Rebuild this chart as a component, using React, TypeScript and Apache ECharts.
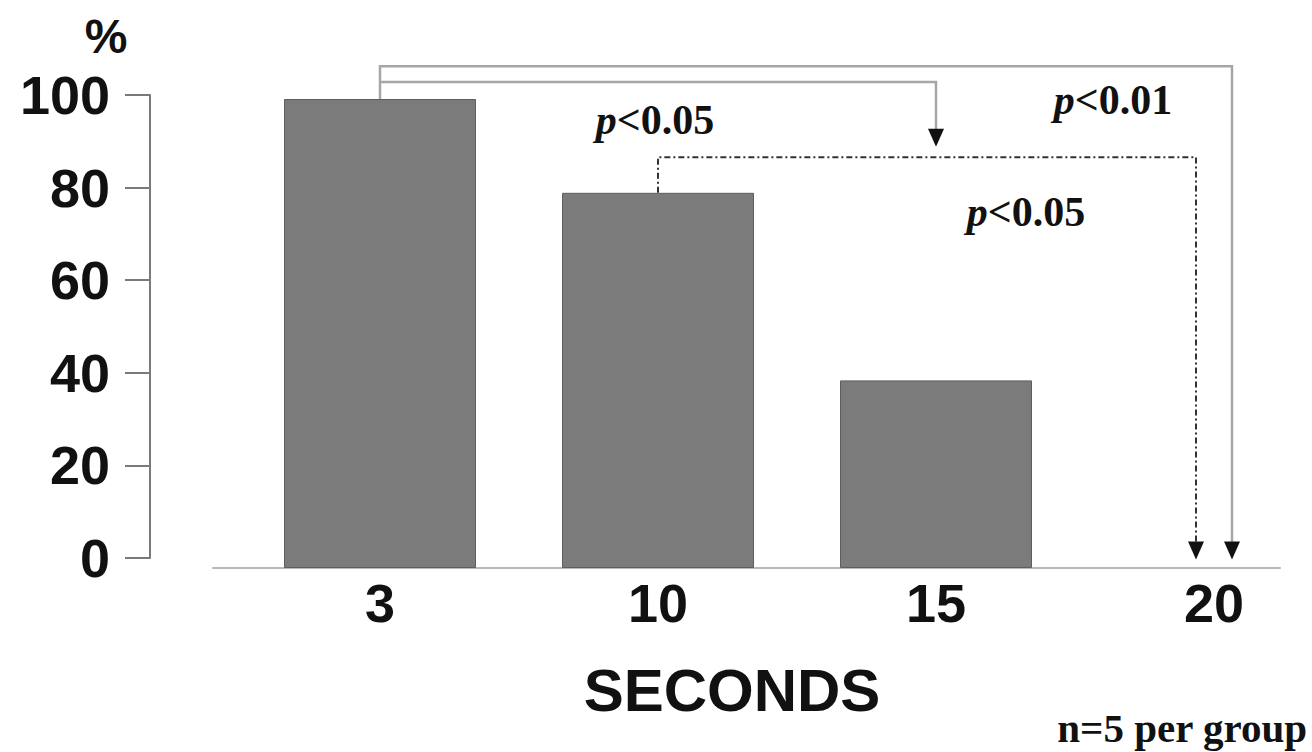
import React, { useEffect, useRef } from "react";
import * as echarts from "echarts";

const categories = ["3", "10", "15", "20"];
const percentValues = [100, 80, 40, 0];
const yMin = 0;
const yMax = 100;
const yInterval = 20;
const xTitle = "SECONDS";
const yTitle = "%";
const footNote = "n=5 per group";

// significance comparisons: from category -> to category, bracket level (in % units)
const comparisons = [
  { from: "3", to: "15", level: 103.6, pText: "<0.05", kind: "solid" },
  { from: "3", to: "20", level: 107.0, pText: "<0.01", kind: "solid" },
  { from: "10", to: "20", level: 87.6, pText: "<0.05", kind: "dashdot" },
];

const SANS = "'Liberation Sans', Arial, sans-serif";
const SERIF = "'Liberation Serif', 'Times New Roman', serif";

export default function App() {
  const ref = useRef<HTMLDivElement>(null);

  useEffect(() => {
    if (!ref.current) return;
    const chart = echarts.init(ref.current, null, { renderer: "svg" });
    chart.setOption({
      animation: false,
      backgroundColor: "#ffffff",
      grid: [
        { left: 241, width: 1112, top: 99, height: 469, outerBoundsMode: "none", containLabel: false },
        { left: 150, width: 10, top: 95, height: 463, outerBoundsMode: "none", containLabel: false },
        { left: 213, width: 1067, top: 99, height: 469, outerBoundsMode: "none", containLabel: false },
      ],
      xAxis: [
        {
          type: "category",
          gridIndex: 0,
          data: categories,
          axisLine: { show: false },
          axisTick: { show: false },
          axisLabel: {
            margin: 8,
            fontFamily: SANS,
            fontWeight: "bold",
            fontSize: 54,
            color: "#111",
          },
        },
        { type: "value", gridIndex: 1, show: false },
        {
          type: "value",
          gridIndex: 2,
          min: 0,
          max: 1,
          axisLine: { show: true, lineStyle: { color: "#b8b8b8", width: 2 } },
          axisTick: { show: false },
          axisLabel: { show: false },
          splitLine: { show: false },
        },
      ],
      yAxis: [
        { type: "value", gridIndex: 0, min: yMin, max: yMax, show: false },
        {
          type: "value",
          gridIndex: 1,
          min: yMin,
          max: yMax,
          interval: yInterval,
          axisLine: { show: true, lineStyle: { color: "#7a7a7a", width: 2 } },
          axisTick: { show: true, length: 25, lineStyle: { color: "#7a7a7a", width: 2 } },
          splitLine: { show: false },
          axisLabel: {
            margin: 40,
            verticalAlign: "middle",
            padding: [0, 0, 14, 0],
            fontFamily: SANS,
            fontWeight: "bold",
            fontSize: 54,
            color: "#111",
          },
        },
        { type: "value", gridIndex: 2, show: false },
      ],
      series: [
        {
          type: "bar",
          xAxisIndex: 0,
          yAxisIndex: 0,
          data: percentValues.map((v) =>
            v === 0 ? { value: v, itemStyle: { borderWidth: 0, opacity: 0 } } : v
          ),
          barWidth: 192,
          itemStyle: { color: "#7b7b7b", borderColor: "#5e5e5e", borderWidth: 1 },
        },
      ],
    });

    const px = (cat: string, v: number) =>
      chart.convertToPixel({ xAxisIndex: 0, yAxisIndex: 0 }, [cat, v]) as number[];

    const arrow = (x: number, tipY: number) => ({
      type: "polygon",
      shape: { points: [[x - 8, tipY - 18], [x + 8, tipY - 18], [x, tipY]] },
      style: { fill: "#111" },
    });

    const pLabel = (x: number, y: number, rest: string) => ({
      type: "text",
      x,
      y,
      style: {
        text: "{i|p}{b|" + rest + "}",
        align: "center",
        verticalAlign: "middle",
        rich: {
          i: { fontFamily: SERIF, fontStyle: "italic", fontWeight: "bold", fontSize: 42, fill: "#111" },
          b: { fontFamily: SERIF, fontWeight: "bold", fontSize: 42, fill: "#111" },
        },
      },
    });

    const graphics: any[] = [];
    const [c0, top0] = px("3", percentValues[0]);
    const [c1, top1] = px("10", percentValues[1]);
    const [c2] = px("15", 0);
    const [c3] = px("20", 0);
    const tipY = px("20", 1.8)[1];

    const solidStyle = { stroke: "#a6a6a6", lineWidth: 2.5, fill: "none" };
    const dashStyle = { stroke: "#333", lineWidth: 2, fill: "none", lineDash: [6, 3, 2, 3] };

    // outer: 3 -> 20
    const yOuter = px("3", comparisons[1].level)[1];
    const xOuterEnd = c3 + 18;
    graphics.push({
      type: "polyline",
      shape: { points: [[c0, top0], [c0, yOuter], [xOuterEnd, yOuter], [xOuterEnd, tipY - 16]] },
      style: solidStyle,
    });
    graphics.push(arrow(xOuterEnd, tipY));

    // inner: 3 -> 15
    const yInner = px("3", comparisons[0].level)[1];
    const innerTip = px("15", 89.8)[1];
    graphics.push({
      type: "polyline",
      shape: { points: [[c0, yInner], [c2, yInner], [c2, innerTip - 16]] },
      style: solidStyle,
    });
    graphics.push(arrow(c2, innerTip));

    // dash-dot: 10 -> 20
    const yDash = px("10", comparisons[2].level)[1];
    const xDashEnd = c3 - 18;
    graphics.push({
      type: "polyline",
      shape: { points: [[c1, top1], [c1, yDash], [xDashEnd, yDash], [xDashEnd, tipY - 16]] },
      style: dashStyle,
    });
    graphics.push(arrow(xDashEnd, tipY));

    graphics.push(pLabel(c1 - 3, yInner + 38, comparisons[0].pText));
    graphics.push(pLabel(c3 - 101, yOuter + 34, comparisons[1].pText));
    graphics.push(pLabel(c2 + 90, yDash + 55, comparisons[2].pText));

    graphics.push({
      type: "text",
      x: 106,
      y: 36,
      style: { text: yTitle, font: "bold 48px " + SANS, fill: "#111", align: "center", verticalAlign: "middle" },
    });
    graphics.push({
      type: "text",
      x: 732,
      y: 690,
      style: { text: xTitle, font: "bold 60px " + SANS, fill: "#111", align: "center", verticalAlign: "middle" },
    });
    graphics.push({
      type: "text",
      x: 1307,
      y: 748,
      style: { text: footNote, font: "bold 41px " + SERIF, fill: "#111", align: "right", verticalAlign: "bottom" },
    });

    chart.setOption({ graphic: graphics });

    return () => chart.dispose();
  }, []);

  return (
    <div
      ref={ref}
      style={{ position: "fixed", left: 0, top: 0, width: 1312, height: 752 }}
    />
  );
}
